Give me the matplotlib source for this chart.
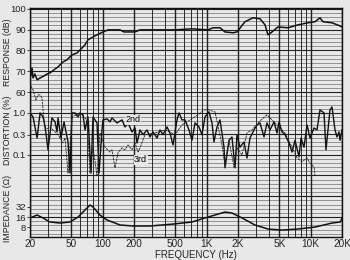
import numpy as np
import matplotlib
matplotlib.use("Agg")
import matplotlib.pyplot as plt

# Frequency response (dB)
resp_f = [20, 20.4, 20.9, 21.4, 22.3, 23.4, 25.0, 27.3, 29.2, 31.1, 34.0, 37.2, 41.5,
          45.4, 50.7, 56.6, 63.2, 67.6, 72.2, 80.7, 88.2, 100.7, 112.5, 146.7, 160.2,
          204.5, 228.5, 496, 722, 1029, 1150, 1343, 1500, 1790, 1955, 2334, 2787, 3258,
          3640, 3883, 4245, 4850, 6055, 7550, 9420, 11000, 12280, 13120, 16030, 19140, 20000]
resp_db = [70.7, 67.8, 71.6, 66.8, 68.7, 65.9, 66.8, 67.8, 68.7, 69.2, 70.7, 72.1, 74.5,
           75.5, 77.9, 78.8, 81.2, 82.7, 85.1, 86.5, 87.5, 88.9, 89.9, 89.9, 88.9,
           88.9, 89.9, 89.9, 90.4, 89.9, 90.9, 90.9, 88.9, 88.5, 88.9, 93.8, 95.7, 95.2,
           92.3, 87.5, 88.9, 91.3, 90.9, 92.3, 93.3, 93.8, 95.7, 93.8, 93.3, 91.8, 91.3]

# 2nd harmonic distortion (%)
h2_f = [20, 21.4, 23.4, 25.0, 26.7, 28, 29.8, 32.5, 34.8, 36.4, 37.2, 39.7, 42.5, 46.4,
        48.5, 50.7, 54.2, 57.9, 60.5, 64.7, 67.6, 72.2, 77.2, 80.7, 88.2, 92.2, 98.5,
        100.7, 110, 117.6, 122.9, 137.3, 153.3, 163.8, 175.1, 191.4, 204.5, 213.8, 228.5,
        244.2, 266.7, 285, 304.6, 332.8, 355.7, 380.1, 415.3, 443.9, 474.3, 518.2, 541.7,
        578.9, 618.7, 675.9, 722, 772, 843, 901, 963, 1052, 1125, 1175, 1257, 1343, 1467,
        1500, 1639, 1750, 1872, 1955, 2090, 2284, 2441, 2609, 2850, 3046, 3258, 3557, 3801,
        4062, 4438, 4743, 4958, 5297, 5660, 6187, 6612, 7067, 7720, 8071, 8625, 9218, 9852,
        10770, 11500, 12280, 13430, 14030, 15330, 16030, 17130, 17900, 18710, 19140, 20000]
h2_pct = [1.0, 0.80, 0.25, 1.0, 0.80, 0.46, 0.13, 0.76, 0.61, 0.35, 0.76, 0.25, 0.61, 0.20,
          0.036, 1.0, 1.0, 0.80, 1.0, 0.90, 0.39, 0.80, 0.036, 0.80, 0.575, 0.036, 0.39,
          0.68, 0.72, 0.61, 0.76, 0.575, 0.68, 0.46, 0.575, 0.35, 0.435, 0.19, 0.39,
          0.30, 0.39, 0.265, 0.35, 0.25, 0.39, 0.30, 0.46, 0.33, 0.17, 0.68, 1.0,
          0.68, 0.68, 0.39, 0.22, 0.575, 0.46, 0.30, 0.80, 1.06, 0.575, 0.20, 0.46, 0.68, 0.15,
          0.048, 0.22, 0.265, 0.048, 0.30, 0.15, 0.20, 0.083, 0.25, 0.39, 0.515, 0.575, 0.265, 0.575,
          0.39, 0.61, 0.33, 0.61, 0.35, 0.30, 0.19, 0.115, 0.22, 0.088, 0.25, 0.15, 0.515, 0.25,
          0.435, 0.39, 1.18, 1.0, 0.13, 1.18, 1.39, 0.39, 0.265, 0.35, 0.22, 0.39]

# 3rd harmonic distortion (%)
h3_f = [20.4, 21.4, 22.8, 23.9, 25.0, 26.1, 26.7, 27.9, 31.1, 37.2, 41.5, 43.4, 46.4, 50.7,
        60.5, 70.7, 75.5, 80.7, 88.2, 94.2, 105.3, 117.6, 122.9, 131.3, 140.3, 153.3, 163.8,
        175.1, 191.4, 204.5, 218.6, 228.5, 255, 318, 397, 496, 579, 691, 824, 942, 1052,
        1202, 1403, 1500, 1639, 1830, 1955, 2185, 2441, 2726, 3184, 3801, 4245, 4958, 5660,
        6612, 7390, 8250, 9218, 9852, 10770, 11000]
h3_pct = [4.45, 3.57, 2.05, 2.7, 2.7, 2.29, 1.18, 0.39, 0.46, 0.30, 0.19, 0.25, 0.036, 0.80,
          1.0, 0.68, 0.036, 0.15, 0.032, 0.33, 0.15, 0.115, 0.13, 0.048, 0.11, 0.145, 0.13,
          0.17, 0.13, 0.19, 0.115, 0.145, 0.30, 0.33, 0.39, 0.30, 0.515, 0.68, 0.90, 1.18, 1.18,
          1.06, 0.17, 0.056, 0.22, 0.050, 0.145, 0.098, 0.33, 0.39, 0.61, 0.90, 0.68, 0.46, 0.33,
          0.15, 0.083, 0.067, 0.083, 0.063, 0.050, 0.032]

# Impedance (ohm)
imp_f = [20, 23.4, 26.7, 31, 39, 48.5, 58, 67.6, 75.5, 80.7, 94, 110, 147, 196, 285, 474,
         722, 963, 1200, 1500, 1750, 2190, 2910, 3880, 5300, 7550, 11000, 16000, 19300, 20000]
imp_ohm = [15.0, 18.3, 15.0, 11.5, 10.7, 11.5, 16.0, 25.5, 35.6, 31.2, 18.3, 13.1, 9.4, 8.8,
           8.8, 10.0, 11.5, 15.0, 18.3, 22.3, 20.9, 15.0, 9.4, 7.2, 6.7, 7.2, 8.2, 10.7, 11.5, 15.0]

resp_ticks = [100, 90, 80, 70, 60]
dist_ticks = [1.0, 0.3, 0.1]
imp_ticks = [32, 16, 8]
x_ticks = [20, 50, 100, 200, 500, 1000, 2000, 5000, 10000, 20000]
x_labels = ['20', '50', '100', '200', '500', '1K', '2K', '5K', '10K', '20K']


# all three graphs share one chart grid (dB-like units)
def dist_pos(d):
    return 50 + 20 * np.log10(np.asarray(d))


def imp_pos(z):
    return 5 * np.log2(np.asarray(z) / 16)


bg = '#e8e8e8'
plt.rcParams['font.family'] = ['Liberation Sans', 'DejaVu Sans']

fig = plt.figure(figsize=(3.5, 2.6), dpi=100, facecolor=bg)
ax = fig.add_axes([30 / 350, 1 - 237 / 260, 312 / 350, 229 / 260])
ax.set_facecolor(bg)
ax.set_xscale('log')
ax.set_xlim(20, 20000)
ax.set_ylim(-9.6, 100.4)

# chart paper grid
for v in np.arange(-8, 101, 2):
    heavy = v % 10 == 0
    ax.axhline(v, color='#222222' if heavy else '#6e6e6e', lw=0.8 if heavy else 0.5, zorder=1)
for dec in [10, 100, 1000, 10000]:
    for m in range(1, 10):
        f = dec * m
        if f < 20 or f > 20000:
            continue
        ax.axvline(f, color='#1e1e1e', lw=1.0 if m in (1, 2, 5) else 0.65, zorder=1)

ax.plot(resp_f, resp_db, color='#111111', lw=1.1, zorder=3)
ax.plot(h2_f, dist_pos(h2_pct), color='#111111', lw=1.0, zorder=3)
ax.plot(h3_f, dist_pos(h3_pct), color='#222222', lw=0.6, ls=(0, (3, 1)), zorder=3)
ax.plot(imp_f, imp_pos(imp_ohm), color='#111111', lw=1.1, zorder=3)

ax.text(195, dist_pos(0.68), '2nd', fontsize=6.5, ha='center', va='center', zorder=4,
        bbox=dict(facecolor=bg, edgecolor='none', pad=0.3))
ax.text(232, dist_pos(0.075), '3rd', fontsize=6.5, ha='center', va='center', zorder=4,
        bbox=dict(facecolor=bg, edgecolor='none', pad=0.3))

yt = list(resp_ticks) + list(dist_pos(dist_ticks)) + list(imp_pos(imp_ticks))
yl = [str(t) for t in resp_ticks] + ['1.0', '0.3', '0.1'] + [str(t) for t in imp_ticks]
ax.set_yticks(yt)
ax.set_yticklabels(yl)
ax.set_xticks(x_ticks)
ax.set_xticklabels(x_labels)
ax.minorticks_off()
ax.tick_params(axis='y', length=2, width=0.6, pad=1, labelsize=6.8, colors='#222222')
ax.tick_params(axis='x', length=0, pad=1.5, labelsize=7.2, colors='#222222')
for s in ax.spines.values():
    s.set_color('#111111')
    s.set_linewidth(1.0)

fig.text(8 / 350, 1 - 52 / 260, 'RESPONSE (dB)', rotation=90, ha='center', va='center',
         fontsize=6.3, color='#222222')
fig.text(8 / 350, 1 - 130 / 260, 'DISTORTION (%)', rotation=90, ha='center', va='center',
         fontsize=6.3, color='#222222')
fig.text(8 / 350, 1 - 208 / 260, 'IMPEDANCE (Ω)', rotation=90, ha='center', va='center',
         fontsize=6.3, color='#222222')
fig.text(196 / 350, 1 - 254.5 / 260, 'FREQUENCY (Hz)', ha='center', va='center',
         fontsize=7, color='#222222')

fig.savefig('out.png', dpi=100, facecolor=bg)
